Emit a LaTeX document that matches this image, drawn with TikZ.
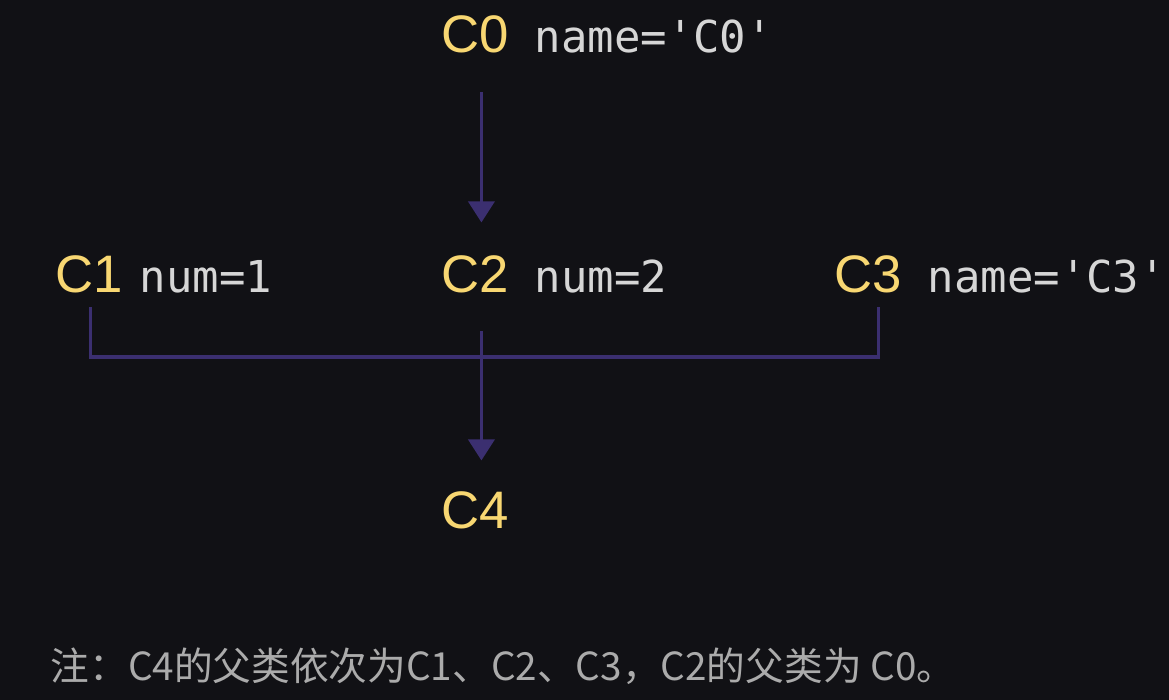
\documentclass[tikz,border=0pt]{standalone}
\usepackage{fontspec}
\setmainfont{Liberation Sans}
\setmonofont{DejaVu Sans Mono}
\newfontfamily\cjk{Noto Sans CJK SC}
\usetikzlibrary{arrows.meta}
\definecolor{bg}{HTML}{111115}
\definecolor{clsyellow}{HTML}{F8D772}
\definecolor{attrgray}{HTML}{D6D6D6}
\definecolor{notegray}{HTML}{ABABAB}
\definecolor{linkpurple}{HTML}{3B2F70}
\begin{document}
\begin{tikzpicture}[x=0.01cm, y=-0.01cm,
    cls/.style={text=clsyellow, font=\fontsize{15}{18}\selectfont, inner sep=0pt, anchor=base west},
    attr/.style={text=attrgray, font=\ttfamily\fontsize{12.5}{15}\selectfont, inner sep=0pt, anchor=base west},
    link/.style={draw=linkpurple, line width=1pt},
    tip/.style={link, -{Triangle[width=0.26cm, length=0.21cm]}}]
    \useasboundingbox (0,0) rectangle (1169,700);
    \fill[bg] (0,0) rectangle (1169,700);
    \foreach \i/\x/\y in {0/441/52, 1/55/292, 2/441/292, 3/834/292, 4/441/528}
        \node[cls] (c\i) at (\x,\y) {C\i};
    \node[attr] (a0) at (534,52) {name=\textquotesingle C0\textquotesingle};
    \node[attr] (a1) at (139,292) {num=1};
    \node[attr] (a2) at (534,292) {num=2};
    \node[attr] (a3) at (927,292) {name=\textquotesingle C3\textquotesingle};
    \draw[tip, shorten <=0.39cm, shorten >=0.32cm] ([xshift=0.06cm]c0.south) -- ([xshift=0.06cm]c2.north);
    \draw[tip, shorten <=0.38cm, shorten >=0.30cm] ([xshift=0.06cm]c2.south) -- ([xshift=0.06cm]c4.north);
    \draw[link] ([xshift=0.01cm, yshift=-0.14cm]c1.south) -- ++(0,50) -| ([xshift=0.10cm, yshift=-0.14cm]c3.south);
    \node[text=notegray, font=\cjk\fontsize{11}{13}\selectfont, inner sep=0pt, anchor=base west] (note) at (50,680)
        {注：C4的父类依次为C1、C2、C3，C2的父类为 C0。};
\end{tikzpicture}
\end{document}
